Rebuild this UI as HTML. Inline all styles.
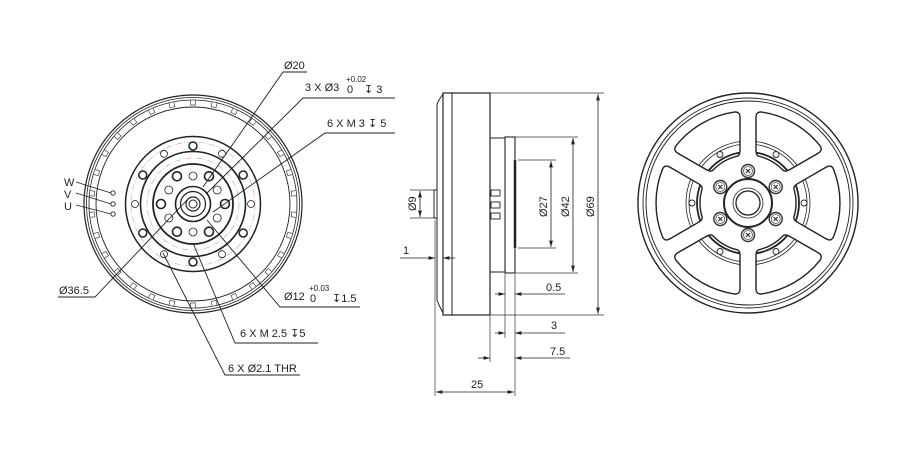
<!DOCTYPE html>
<html><head><meta charset="utf-8"><style>
html,body{margin:0;padding:0;background:#fff}
svg{display:block}
text{font-family:"Liberation Sans",sans-serif;font-size:11px;fill:#222}
</style></head><body>
<svg width="920" height="460" viewBox="0 0 920 460" xmlns="http://www.w3.org/2000/svg">
<defs>
<marker id="ah" viewBox="0 0 10 6" refX="10" refY="3" markerWidth="8" markerHeight="5" orient="auto-start-reverse"><path d="M0,0 L10,3 L0,6 z" fill="#222"/></marker>
<rect id="slot" x="-2.5" y="-104" width="5" height="5" fill="#fff" stroke="#444" stroke-width="0.7"/>
<path id="win" d="M49.3 -19.2 L78.2 -35.9 Q83.4 -38.9 85.7 -33.4 A92 92 0 0 1 85.7 33.4 Q83.4 38.9 78.2 35.9 L49.3 19.2 Q45 16.7 46 13.7 A48 48 0 0 0 46 -13.7 Q45 -16.7 49.3 -19.2 Z"/>
<clipPath id="wc"><use href="#win"/><use href="#win" transform="rotate(60)"/><use href="#win" transform="rotate(120)"/><use href="#win" transform="rotate(180)"/><use href="#win" transform="rotate(240)"/><use href="#win" transform="rotate(300)"/></clipPath>
<g id="scr"><circle r="6.5" fill="#fff" stroke="#333" stroke-width="1.4"/><circle r="4.5" fill="none" stroke="#555" stroke-width="0.8"/><path d="M-2,-2 L2,2 M2,-2 L-2,2" stroke="#333" stroke-width="1.2"/></g>
</defs>

<!-- LEFT VIEW -->
<g transform="translate(193,204)" fill="none" stroke="#222">
<circle r="109" stroke-width="1.2"/>
<circle r="106.5" stroke-width="0.8"/>
<circle r="104" stroke-width="0.8"/>
<circle r="97" stroke-width="0.9"/>
<g>
<use href="#slot"/><use href="#slot" transform="rotate(12)"/><use href="#slot" transform="rotate(24)"/><use href="#slot" transform="rotate(36)"/><use href="#slot" transform="rotate(48)"/><use href="#slot" transform="rotate(60)"/><use href="#slot" transform="rotate(72)"/><use href="#slot" transform="rotate(84)"/><use href="#slot" transform="rotate(96)"/><use href="#slot" transform="rotate(108)"/><use href="#slot" transform="rotate(120)"/><use href="#slot" transform="rotate(132)"/><use href="#slot" transform="rotate(144)"/><use href="#slot" transform="rotate(156)"/><use href="#slot" transform="rotate(168)"/><use href="#slot" transform="rotate(180)"/><use href="#slot" transform="rotate(192)"/><use href="#slot" transform="rotate(204)"/><use href="#slot" transform="rotate(216)"/><use href="#slot" transform="rotate(228)"/><use href="#slot" transform="rotate(240)"/><use href="#slot" transform="rotate(252)"/><use href="#slot" transform="rotate(264)"/><use href="#slot" transform="rotate(276)"/><use href="#slot" transform="rotate(288)"/><use href="#slot" transform="rotate(300)"/><use href="#slot" transform="rotate(312)"/><use href="#slot" transform="rotate(324)"/><use href="#slot" transform="rotate(336)"/><use href="#slot" transform="rotate(348)"/>
</g>
<circle r="67.5" stroke-width="1.5"/>
<circle r="62" stroke="#e8a0b0" stroke-width="0.7" stroke-dasharray="6 2 1 2"/>
<circle r="52.5" stroke-width="1.6"/>
<circle r="46" stroke="#e8a0b0" stroke-width="0.7" stroke-dasharray="6 2 1 2"/>
<circle r="40" stroke-width="1.8"/>
<circle r="17.5" stroke-width="1.6"/>
<circle r="12.5" stroke-width="1.2"/>
<circle r="7" stroke-width="1.2"/>
<circle r="4" stroke-width="1"/>
<g stroke-width="1.5">
<circle cx="0" cy="-58" r="4"/><circle cx="50.2" cy="-29" r="4"/><circle cx="50.2" cy="29" r="4"/><circle cx="0" cy="58" r="4"/><circle cx="-50.2" cy="29" r="4"/><circle cx="-50.2" cy="-29" r="4"/>
</g>
<g stroke-width="0.8">
<circle cx="58" cy="0" r="3.5"/><circle cx="29" cy="-50.2" r="3.5"/><circle cx="-29" cy="-50.2" r="3.5"/><circle cx="-58" cy="0" r="3.5"/><circle cx="-29" cy="50.2" r="3.5"/><circle cx="29" cy="50.2" r="3.5"/>
</g>
<g stroke-width="1.6">
<circle cx="32" cy="0" r="4.5"/><circle cx="16" cy="-27.7" r="4.5"/><circle cx="-16" cy="-27.7" r="4.5"/><circle cx="-32" cy="0" r="4.5"/><circle cx="-16" cy="27.7" r="4.5"/><circle cx="16" cy="27.7" r="4.5"/>
</g>
<g stroke-width="0.8">
<circle cx="0" cy="-28" r="4"/><circle cx="24.2" cy="-14" r="4"/><circle cx="24.2" cy="14" r="4"/><circle cx="0" cy="28" r="4"/><circle cx="-24.2" cy="14" r="4"/><circle cx="-24.2" cy="-14" r="4"/>
</g>
<g stroke-width="0.9">
<circle cx="-80" cy="-11" r="2.2"/><circle cx="-80" cy="0" r="2.2"/><circle cx="-80" cy="10" r="2.2"/>
</g>
</g>
<g stroke="#222" stroke-width="0.9" fill="none">
<line x1="76" y1="182" x2="111" y2="193"/>
<line x1="76" y1="193" x2="111" y2="204"/>
<line x1="76" y1="205" x2="111" y2="214"/>
<polyline points="307,72 283,72 203,187"/>
<polyline points="395,98 303,98 207,193"/>
<polyline points="395,133 325,133 213,212"/>
<polyline points="58,297 95,297 187,200"/>
<polyline points="360,307 280,307 207,220"/>
<polyline points="318,343 235,343 193,243"/>
<polyline points="300,375 225,375 163,253"/>
</g>
<text x="64" y="186">W</text>
<text x="64" y="198">V</text>
<text x="64" y="210">U</text>
<text x="284" y="69">Ø20</text>
<text x="305" y="91">3 X Ø3</text><text x="346" y="82" style="font-size:8px">+0.02</text><text x="347" y="93">0</text><text x="364" y="93">↧ 3</text>
<text x="327" y="127">6 X M 3  ↧ 5</text>
<text x="59" y="294">Ø36.5</text>
<text x="284" y="300">Ø12</text><text x="309" y="291" style="font-size:8px">+0.03</text><text x="310" y="302">0</text><text x="332" y="302">↧1.5</text>
<text x="240" y="337">6 X M 2.5 ↧5</text>
<text x="228" y="372">6 X Ø2.1 THR</text>

<!-- MIDDLE VIEW -->
<g fill="none" stroke="#222">
<path d="M443,94 L439,100 L437,104 L437,300 L439,305 L443,313" stroke-width="1"/>
<rect x="443" y="93" width="47" height="222" stroke-width="1.2"/>
<line x1="452" y1="93" x2="452" y2="315" stroke-width="1"/>
<rect x="434" y="190" width="3" height="28" stroke-width="1"/>
<rect x="490" y="138" width="15" height="134" stroke-width="1"/>
<rect x="505" y="137" width="10" height="136" stroke-width="1.1"/>
<line x1="515" y1="160" x2="515" y2="248" stroke-width="2.5"/>
<rect x="491" y="190" width="9" height="6" stroke-width="0.9"/>
<rect x="491" y="202" width="9" height="6" stroke-width="0.9"/>
<rect x="491" y="213" width="9" height="6" stroke-width="0.9"/>
</g>
<g stroke="#333" stroke-width="0.7" fill="none">
<line x1="490" y1="93" x2="604" y2="93"/><line x1="490" y1="315" x2="604" y2="315"/>
<line x1="515" y1="137" x2="578" y2="137"/><line x1="515" y1="273" x2="578" y2="273"/>
<line x1="518" y1="160" x2="556" y2="160"/><line x1="518" y1="248" x2="556" y2="248"/>
<line x1="410" y1="190" x2="434" y2="190"/><line x1="410" y1="218" x2="434" y2="218"/>
<line x1="435" y1="220" x2="435" y2="396"/>
<line x1="490" y1="316" x2="490" y2="362"/>
<line x1="505" y1="274" x2="505" y2="338"/>
<line x1="515" y1="274" x2="515" y2="396"/>
<line x1="443" y1="316" x2="443" y2="262"/>
</g>
<g stroke="#222" stroke-width="0.8" fill="none">
<line x1="598" y1="94" x2="598" y2="314" marker-start="url(#ah)" marker-end="url(#ah)"/>
<line x1="573" y1="138" x2="573" y2="272" marker-start="url(#ah)" marker-end="url(#ah)"/>
<line x1="551" y1="161" x2="551" y2="247" marker-start="url(#ah)" marker-end="url(#ah)"/>
<line x1="420" y1="191" x2="420" y2="217" marker-start="url(#ah)" marker-end="url(#ah)"/>
<line x1="400" y1="258" x2="435" y2="258" marker-end="url(#ah)"/><line x1="455" y1="258" x2="443" y2="258" marker-end="url(#ah)"/>
<line x1="495" y1="294" x2="505" y2="294" marker-end="url(#ah)"/><line x1="565" y1="294" x2="515" y2="294" marker-end="url(#ah)"/>
<line x1="495" y1="333" x2="505" y2="333" marker-end="url(#ah)"/><line x1="565" y1="333" x2="515" y2="333" marker-end="url(#ah)"/>
<line x1="478" y1="358" x2="490" y2="358" marker-end="url(#ah)"/><line x1="570" y1="358" x2="515" y2="358" marker-end="url(#ah)"/>
<line x1="436" y1="392" x2="514" y2="392" marker-start="url(#ah)" marker-end="url(#ah)"/>
</g>
<text x="403" y="254">1</text>
<text x="546" y="291">0.5</text>
<text x="551" y="329">3</text>
<text x="550" y="355">7.5</text>
<text x="471" y="388">25</text>
<text transform="translate(416,211) rotate(-90)">Ø9</text>
<text transform="translate(547,217) rotate(-90)">Ø27</text>
<text transform="translate(569,217) rotate(-90)">Ø42</text>
<text transform="translate(594,217) rotate(-90)">Ø69</text>

<!-- RIGHT VIEW -->
<g transform="translate(748,203)" fill="none" stroke="#222">
<circle r="110" stroke-width="1.4"/>
<circle r="105" stroke-width="0.9"/>
<circle r="102" stroke-width="0.9"/>
<g clip-path="url(#wc)">
<circle r="62" stroke-width="0.8"/>
<circle r="59" stroke-width="0.8"/>
<circle r="51" stroke-width="1.8"/>
<g stroke-width="0.9" fill="#fff">
<circle cx="56" cy="0" r="3"/><circle cx="-56" cy="0" r="3"/><circle cx="28" cy="-48.5" r="3"/><circle cx="-28" cy="-48.5" r="3"/><circle cx="28" cy="48.5" r="3"/><circle cx="-28" cy="48.5" r="3"/>
</g>
</g>
<g stroke-width="1.4" stroke-linejoin="round">
<use href="#win"/><use href="#win" transform="rotate(60)"/><use href="#win" transform="rotate(120)"/><use href="#win" transform="rotate(180)"/><use href="#win" transform="rotate(240)"/><use href="#win" transform="rotate(300)"/>
</g>
<circle r="24" stroke-width="2" fill="#fff"/>
<circle r="15" stroke-width="0.8"/>
<circle r="12" stroke-width="1.3"/>
<use href="#scr" x="0" y="-32"/><use href="#scr" x="0" y="32"/><use href="#scr" x="27.7" y="-16"/><use href="#scr" x="-27.7" y="-16"/><use href="#scr" x="27.7" y="16"/><use href="#scr" x="-27.7" y="16"/>
</g>
</svg>
</body></html>
